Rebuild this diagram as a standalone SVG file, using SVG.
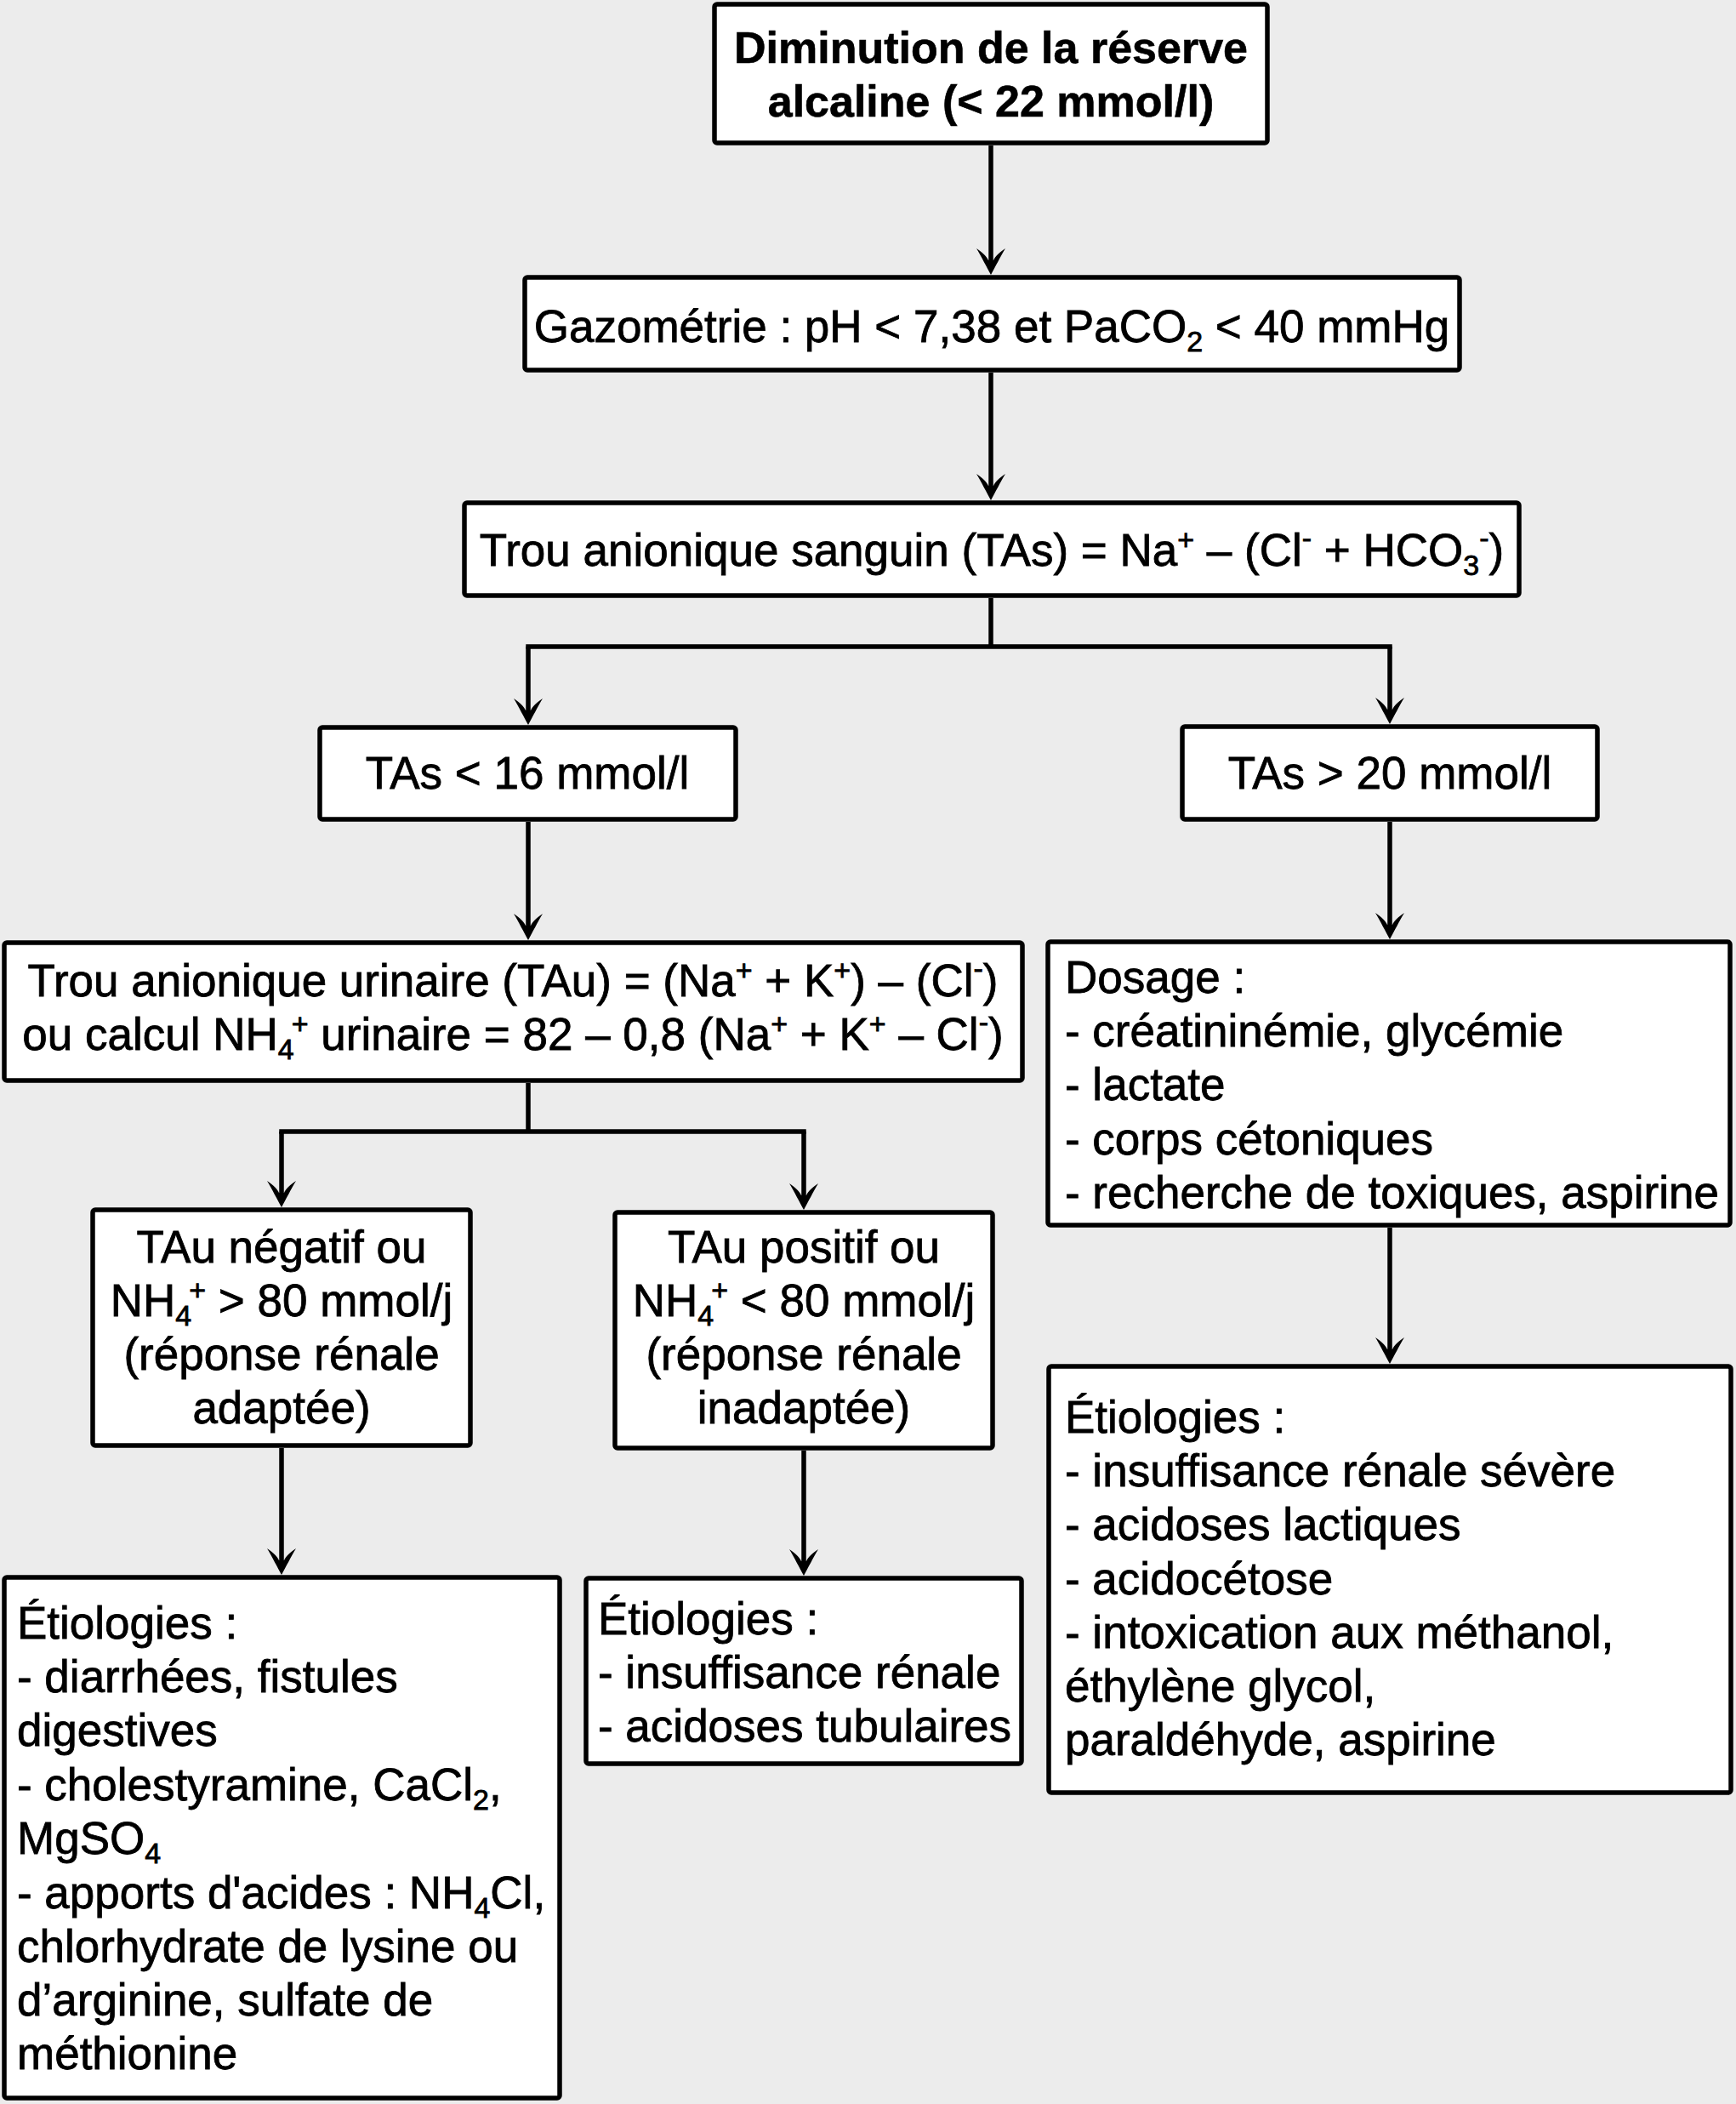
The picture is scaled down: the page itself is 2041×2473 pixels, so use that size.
<svg xmlns="http://www.w3.org/2000/svg" width="2041" height="2473" viewBox="0 0 2041 2473">
<style>
.box{fill:#fff;stroke:#000;stroke-width:5.5}
text{font-family:"Liberation Sans",Arial,Helvetica,sans-serif;font-size:53px;fill:#000;stroke:#000;stroke-width:0.8px}
.b{font-weight:bold;font-size:52px;stroke-width:0.6px}
.c{text-anchor:middle}
.s{font-size:34px}
.ln{fill:none;stroke:#000;stroke-width:5.5}
</style>
<defs>
<marker id="ah" markerUnits="userSpaceOnUse" markerWidth="36" markerHeight="40" viewBox="-33 -20 36 40" refX="-15" refY="0" orient="auto">
<path d="M0,0 C-9,-5 -21,-11 -31,-17 C-26,-10 -22,-5 -17,-3 L-17,3 C-22,5 -26,10 -31,17 C-21,11 -9,5 0,0 Z" fill="#000"/>
</marker>
</defs>
<rect x="0" y="0" width="2041" height="2473" fill="#ececec"/>
<g id="connectors">
<path class="ln" d="M1165,171 V308" marker-end="url(#ah)"/>
<path class="ln" d="M1165,438 V573" marker-end="url(#ah)"/>
<path class="ln" d="M1165,703 V760"/>
<path class="ln" d="M621,760 H1634" stroke-linecap="square"/>
<path class="ln" d="M621,760 V837" marker-end="url(#ah)"/>
<path class="ln" d="M1634,760 V836" marker-end="url(#ah)"/>
<path class="ln" d="M621,966 V1090" marker-end="url(#ah)"/>
<path class="ln" d="M1634,966 V1089" marker-end="url(#ah)"/>
<path class="ln" d="M621,1273 V1330"/>
<path class="ln" d="M331,1330 H945" stroke-linecap="square"/>
<path class="ln" d="M331,1330 V1404" marker-end="url(#ah)"/>
<path class="ln" d="M945,1330 V1407" marker-end="url(#ah)"/>
<path class="ln" d="M331,1702 V1836" marker-end="url(#ah)"/>
<path class="ln" d="M945,1705 V1837" marker-end="url(#ah)"/>
<path class="ln" d="M1634,1443 V1588" marker-end="url(#ah)"/>
</g>
<g id="n-reserve">
<rect class="box" x="840" y="5" width="650" height="163" rx="3"/>
<text class="b c" x="1165" y="74">Diminution de la réserve</text>
<text class="b c" x="1165" y="137">alcaline (&lt; 22 mmol/l)</text>
</g>
<g id="n-gazometrie">
<rect class="box" x="617" y="326" width="1099" height="109" rx="3"/>
<text class="c" x="1166" y="402">Gazométrie : pH &lt; 7,38 et PaCO<tspan class="s" dy="11">2</tspan><tspan dy="-11"> &lt; 40 mmHg</tspan></text>
</g>
<g id="n-tas">
<rect class="box" x="546" y="591" width="1240" height="109" rx="3"/>
<text class="c" x="1166" y="665">Trou anionique sanguin (TAs) = Na<tspan class="s" dy="-19">+</tspan><tspan dy="19"> – (Cl</tspan><tspan class="s" dy="-21">-</tspan><tspan dy="21"> + HCO</tspan><tspan class="s" dy="11">3</tspan><tspan class="s" dy="-32">-</tspan><tspan dy="21">)</tspan></text>
</g>
<g id="n-tas-inf16">
<rect class="box" x="376" y="855" width="489" height="108" rx="3"/>
<text class="c" x="620" y="927">TAs &lt; 16 mmol/l</text>
</g>
<g id="n-tas-sup20">
<rect class="box" x="1390" y="854" width="488" height="109" rx="3"/>
<text class="c" x="1634" y="927">TAs &gt; 20 mmol/l</text>
</g>
<g id="n-tau">
<rect class="box" x="5" y="1108" width="1197" height="162" rx="3"/>
<text class="c" x="603" y="1171">Trou anionique urinaire (TAu) = (Na<tspan class="s" dy="-19">+</tspan><tspan dy="19"> + K</tspan><tspan class="s" dy="-19">+</tspan><tspan dy="19">) – (Cl</tspan><tspan class="s" dy="-21">-</tspan><tspan dy="21">)</tspan></text>
<text class="c" x="603" y="1234">ou calcul NH<tspan class="s" dy="11">4</tspan><tspan class="s" dx="-3" dy="-30">+</tspan><tspan dy="19"> urinaire = 82 – 0,8 (Na</tspan><tspan class="s" dy="-19">+</tspan><tspan dy="19"> + K</tspan><tspan class="s" dy="-19">+</tspan><tspan dy="19"> – Cl</tspan><tspan class="s" dy="-21">-</tspan><tspan dy="21">)</tspan></text>
</g>
<g id="n-dosage">
<rect class="box" x="1232" y="1107" width="802" height="333" rx="3"/>
<text x="1252" y="1167">Dosage :</text>
<text x="1252" y="1230">- créatininémie, glycémie</text>
<text x="1252" y="1293">- lactate</text>
<text x="1252" y="1357">- corps cétoniques</text>
<text x="1252" y="1420">- recherche de toxiques, aspirine</text>
</g>
<g id="n-tau-neg">
<rect class="box" x="109" y="1422" width="444" height="277" rx="3"/>
<text class="c" x="331" y="1484">TAu négatif ou</text>
<text class="c" x="331" y="1547">NH<tspan class="s" dy="11">4</tspan><tspan class="s" dx="-3" dy="-30">+</tspan><tspan dy="19"> &gt; 80 mmol/j</tspan></text>
<text class="c" x="331" y="1610">(réponse rénale</text>
<text class="c" x="331" y="1673">adaptée)</text>
</g>
<g id="n-tau-pos">
<rect class="box" x="723" y="1425" width="444" height="277" rx="3"/>
<text class="c" x="945" y="1484">TAu positif ou</text>
<text class="c" x="945" y="1547">NH<tspan class="s" dy="11">4</tspan><tspan class="s" dx="-3" dy="-30">+</tspan><tspan dy="19"> &lt; 80 mmol/j</tspan></text>
<text class="c" x="945" y="1610">(réponse rénale</text>
<text class="c" x="945" y="1673">inadaptée)</text>
</g>
<g id="n-etio-tag">
<rect class="box" x="1233" y="1606" width="802" height="501" rx="3"/>
<text x="1252" y="1684">Étiologies :</text>
<text x="1252" y="1747">- insuffisance rénale sévère</text>
<text x="1252" y="1810">- acidoses lactiques</text>
<text x="1252" y="1874">- acidocétose</text>
<text x="1252" y="1937">- intoxication aux méthanol,</text>
<text x="1252" y="2000">éthylène glycol,</text>
<text x="1252" y="2063">paraldéhyde, aspirine</text>
</g>
<g id="n-etio-adaptee">
<rect class="box" x="5" y="1854" width="653" height="612" rx="3"/>
<text x="20" y="1926">Étiologies :</text>
<text x="20" y="1989">- diarrhées, fistules</text>
<text x="20" y="2052">digestives</text>
<text x="20" y="2116">- cholestyramine, CaCl<tspan class="s" dy="11">2</tspan><tspan dy="-11">,</tspan></text>
<text x="20" y="2179">MgSO<tspan class="s" dy="11">4</tspan></text>
<text x="20" y="2243">- apports d'acides : NH<tspan class="s" dy="11">4</tspan><tspan dy="-11">Cl,</tspan></text>
<text x="20" y="2306">chlorhydrate de lysine ou</text>
<text x="20" y="2369">d’arginine, sulfate de</text>
<text x="20" y="2432">méthionine</text>
</g>
<g id="n-etio-inadaptee">
<rect class="box" x="689" y="1855" width="512" height="218" rx="3"/>
<text x="703" y="1921">Étiologies :</text>
<text x="703" y="1984">- insuffisance rénale</text>
<text x="703" y="2047">- acidoses tubulaires</text>
</g>
</svg>
